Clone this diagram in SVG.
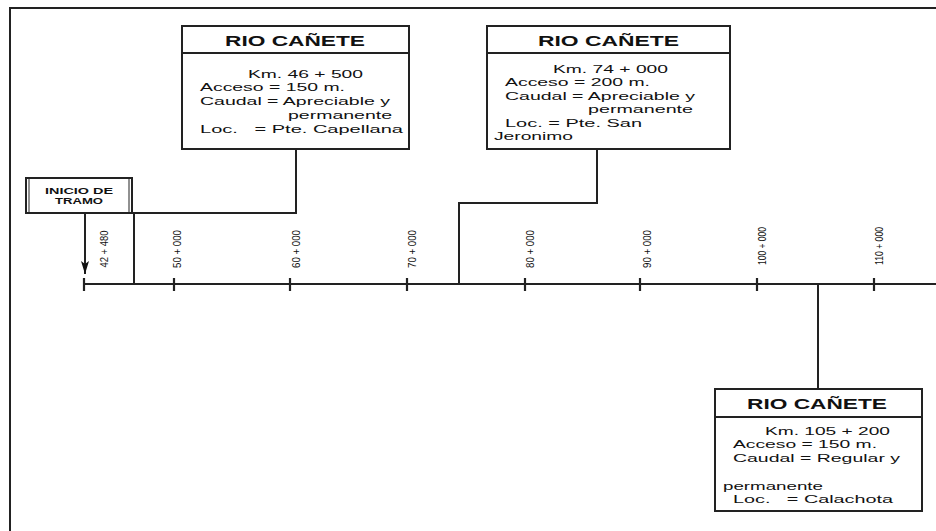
<svg xmlns="http://www.w3.org/2000/svg" width="936" height="531" viewBox="0 0 936 531">
<style>
.ln{stroke:#222;stroke-width:2;fill:none}
.box{fill:#fff;stroke:#222;stroke-width:2}
.ttl{font-family:"Liberation Sans",Arial,sans-serif;font-weight:bold;font-size:15px;fill:#111}
.t{font-family:"Liberation Sans",Arial,sans-serif;font-size:11px;fill:#111}
.km{font-family:"Liberation Sans",Arial,sans-serif;font-size:11px;fill:#111;text-anchor:middle}
.ini{font-family:"Liberation Sans",Arial,sans-serif;font-weight:bold;font-size:9.5px;fill:#111}
</style>
<defs>
<marker id="ah" markerWidth="14" markerHeight="8" refX="13" refY="4" orient="auto" markerUnits="userSpaceOnUse" viewBox="0 0 14 8">
<path d="M0,0 L13,4 L0,8 L3,4 Z" fill="#111"/>
</marker>
</defs>
<rect width="936" height="531" fill="#fff"/>
<g id="frame">
<line class="ln" x1="9" y1="8" x2="936" y2="8"/>
<line class="ln" x1="10" y1="7" x2="10" y2="531"/>
</g>
<g id="connectors">
<line class="ln" x1="84" y1="284" x2="936" y2="284"/>
<polyline class="ln" points="296,149 296,213 134,213 134,284"/>
<polyline class="ln" points="597,149 597,203 459,203 459,284"/>
<line class="ln" x1="818" y1="284" x2="818" y2="389"/>
<line class="ln" x1="85" y1="213" x2="85" y2="274" marker-end="url(#ah)"/>
</g>
<g id="ticks">
<g class="ln" style="stroke-width:2.2">
<line x1="84" y1="278" x2="84" y2="291"/>
<line x1="174" y1="278" x2="174" y2="291"/>
<line x1="290" y1="278" x2="290" y2="291"/>
<line x1="407" y1="278" x2="407" y2="291"/>
<line x1="525" y1="278" x2="525" y2="291"/>
<line x1="640" y1="278" x2="640" y2="291"/>
<line x1="757" y1="278" x2="757" y2="291"/>
<line x1="874" y1="278" x2="874" y2="291"/>
</g>
<text class="km" transform="translate(108,249) rotate(-90)" textLength="37" lengthAdjust="spacingAndGlyphs">42 + 480</text>
<text class="km" transform="translate(181,249) rotate(-90)" textLength="38" lengthAdjust="spacingAndGlyphs">50 + 000</text>
<text class="km" transform="translate(300,249) rotate(-90)" textLength="38" lengthAdjust="spacingAndGlyphs">60 + 000</text>
<text class="km" transform="translate(416,249) rotate(-90)" textLength="38" lengthAdjust="spacingAndGlyphs">70 + 000</text>
<text class="km" transform="translate(534,249) rotate(-90)" textLength="38" lengthAdjust="spacingAndGlyphs">80 + 000</text>
<text class="km" transform="translate(651,249) rotate(-90)" textLength="38" lengthAdjust="spacingAndGlyphs">90 + 000</text>
<text class="km" transform="translate(766,246) rotate(-90)" textLength="38" lengthAdjust="spacingAndGlyphs">100 + 000</text>
<text class="km" transform="translate(883,246) rotate(-90)" textLength="38" lengthAdjust="spacingAndGlyphs">110 + 000</text>
</g>
<g id="inicio">
<rect class="box" x="26" y="178" width="106" height="35"/>
<line class="ln" x1="29" y1="179" x2="29" y2="212" style="stroke-width:1"/>
<line class="ln" x1="129" y1="179" x2="129" y2="212" style="stroke-width:1"/>
<text class="ini" x="45" y="194" textLength="68" lengthAdjust="spacingAndGlyphs">INICIO DE</text>
<text class="ini" x="55" y="204" textLength="48" lengthAdjust="spacingAndGlyphs">TRAMO</text>
</g>
<g id="rio1">
<rect class="box" x="182" y="26" width="227" height="123"/>
<line class="ln" x1="182" y1="53" x2="409" y2="53"/>
<text class="ttl" x="225" y="46" textLength="140" lengthAdjust="spacingAndGlyphs">RIO CAÑETE</text>
<text class="t" x="248" y="78" textLength="115" lengthAdjust="spacingAndGlyphs">Km. 46 + 500</text>
<text class="t" x="200" y="91" textLength="145" lengthAdjust="spacingAndGlyphs">Acceso = 150 m.</text>
<text class="t" x="200" y="105" textLength="190" lengthAdjust="spacingAndGlyphs">Caudal = Apreciable y</text>
<text class="t" x="288" y="119" textLength="104" lengthAdjust="spacingAndGlyphs">permanente</text>
<text class="t" x="200" y="133" textLength="203" lengthAdjust="spacingAndGlyphs" xml:space="preserve">Loc.   = Pte. Capellana</text>
</g>
<g id="rio2">
<rect class="box" x="487" y="26" width="243" height="123"/>
<line class="ln" x1="487" y1="53" x2="730" y2="53"/>
<text class="ttl" x="538" y="46" textLength="141" lengthAdjust="spacingAndGlyphs">RIO CAÑETE</text>
<text class="t" x="553" y="73" textLength="115" lengthAdjust="spacingAndGlyphs">Km. 74 + 000</text>
<text class="t" x="505" y="86" textLength="145" lengthAdjust="spacingAndGlyphs">Acceso = 200 m.</text>
<text class="t" x="505" y="100" textLength="190" lengthAdjust="spacingAndGlyphs">Caudal = Apreciable y</text>
<text class="t" x="588" y="113" textLength="105" lengthAdjust="spacingAndGlyphs">permanente</text>
<text class="t" x="505" y="127" textLength="137" lengthAdjust="spacingAndGlyphs">Loc. = Pte. San</text>
<text class="t" x="494" y="140" textLength="79" lengthAdjust="spacingAndGlyphs">Jeronimo</text>
</g>
<g id="rio3">
<rect class="box" x="715" y="389" width="207" height="122"/>
<line class="ln" x1="715" y1="417" x2="922" y2="417"/>
<text class="ttl" x="747" y="409" textLength="140" lengthAdjust="spacingAndGlyphs">RIO CAÑETE</text>
<text class="t" x="765" y="435" textLength="125" lengthAdjust="spacingAndGlyphs">Km. 105 + 200</text>
<text class="t" x="733" y="448" textLength="144" lengthAdjust="spacingAndGlyphs">Acceso = 150 m.</text>
<text class="t" x="733" y="462" textLength="167" lengthAdjust="spacingAndGlyphs">Caudal = Regular y</text>
<text class="t" x="723" y="490" textLength="100" lengthAdjust="spacingAndGlyphs">permanente</text>
<text class="t" x="733" y="503" textLength="160" lengthAdjust="spacingAndGlyphs" xml:space="preserve">Loc.   = Calachota</text>
</g>
</svg>
